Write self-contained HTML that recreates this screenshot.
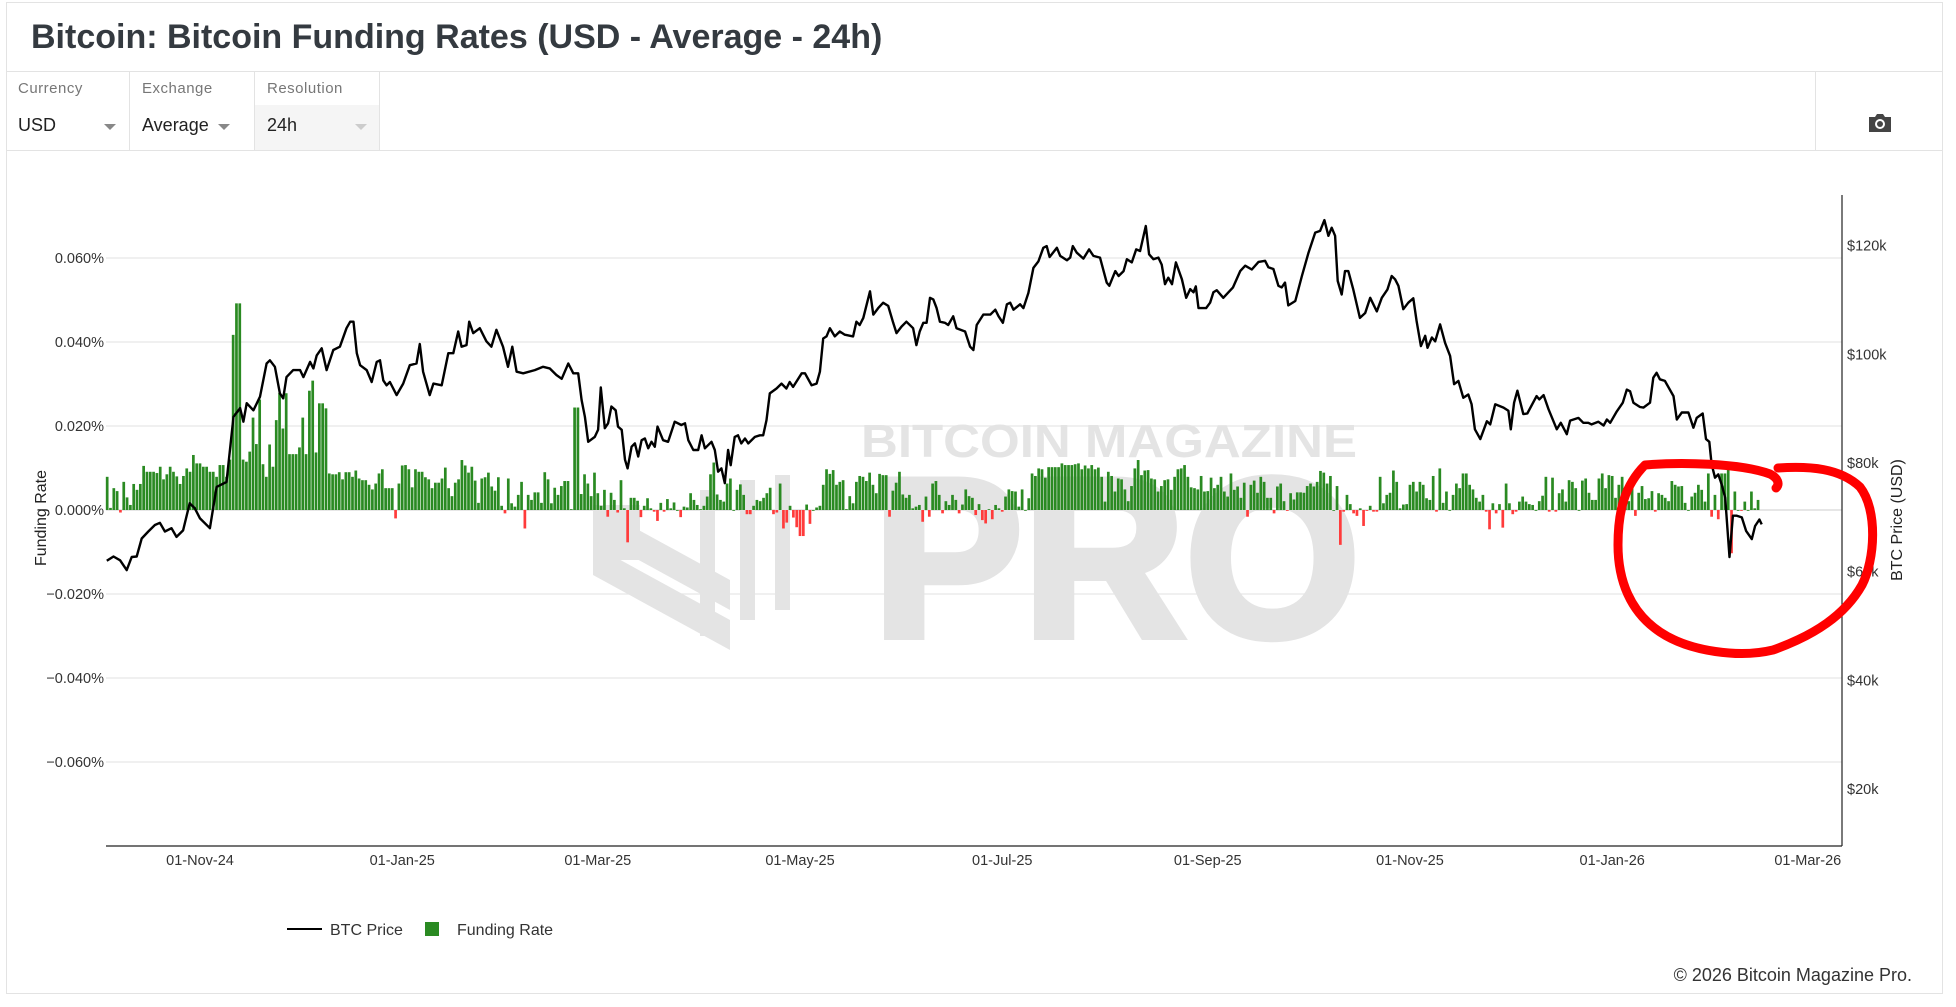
<!DOCTYPE html>
<html><head><meta charset="utf-8">
<style>
html,body{margin:0;padding:0;background:#fff;}
body{width:1956px;height:1007px;position:relative;overflow:hidden;font-family:"Liberation Sans",sans-serif;color:#333;}
.card{position:absolute;left:6px;top:2px;width:1937px;height:992px;border:1px solid #e3e3e3;box-sizing:border-box;}
.title{position:absolute;left:31px;top:18px;font-size:34px;font-weight:bold;color:#343a40;}
.hline{position:absolute;left:6px;width:1937px;height:1px;background:#e3e3e3;}
.ctrl{position:absolute;top:72px;height:78px;border-right:1px solid #e3e3e3;box-sizing:border-box;}
.ctrl .lbl{position:absolute;left:12px;top:8px;font-size:15px;color:#777;letter-spacing:0.5px;}
.ctrl .val{position:absolute;left:12px;top:43px;font-size:18px;color:#222;}
.ctrl .arr{position:absolute;top:52px;width:0;height:0;border-left:6px solid transparent;border-right:6px solid transparent;border-top:6px solid #888;}
</style></head>
<body>
<div class="card"></div>
<div class="title">Bitcoin: Bitcoin Funding Rates (USD - Average - 24h)</div>
<div class="hline" style="top:71px"></div>
<div class="ctrl" style="left:6px;width:124px"><div class="lbl">Currency</div><div class="val">USD</div><div class="arr" style="left:98px"></div></div>
<div class="ctrl" style="left:130px;width:125px"><div class="lbl">Exchange</div><div class="val">Average</div><div class="arr" style="left:88px"></div></div>
<div class="ctrl" style="left:255px;width:125px"><div style="position:absolute;left:0;top:33px;width:124px;height:45px;background:#f5f5f5"></div><div class="lbl">Resolution</div><div class="val">24h</div><div class="arr" style="left:100px;border-top-color:#ccc"></div></div>
<div class="hline" style="top:150px"></div>
<div style="position:absolute;left:1815px;top:72px;width:1px;height:78px;background:#e3e3e3"></div>
<svg style="position:absolute;left:1867px;top:112px" width="26" height="22" viewBox="0 0 26 22">
<path d="M2 5h6l2-3h6l2 3h6v15H2z" fill="#444"/><circle cx="13" cy="12" r="5" fill="#fff"/><circle cx="13" cy="12" r="3" fill="#444"/></svg>

<svg id="chart" style="position:absolute;left:0;top:0" width="1956" height="1007"></svg>

<div style="position:absolute;right:44px;top:965px;font-size:18px;color:#333">© 2026 Bitcoin Magazine Pro.</div>

<script>
const xTickLabels = ["01-Nov-24","01-Jan-25","01-Mar-25","01-May-25","01-Jul-25","01-Sep-25","01-Nov-25","01-Jan-26","01-Mar-26"];
const xTickDays = [0,61,120,181,242,304,365,426,485];
const fundingTicks = [0.06,0.04,0.02,0,-0.02,-0.04,-0.06];
const priceTicks = [120,100,80,60,40,20];
const fundingStartDay = -28;
const fundingValues = [
7.9,0.5,5.2,4.5,-0.6,6.7,3,1.2,6.2,4.8,
6.2,10.5,9.1,9.1,9.1,8.8,10.3,7.3,8.5,10.3,
9.1,8,6.2,8.1,9.9,9.1,13.1,11.1,11.1,10.3,
10.3,9.1,9.1,7.9,10.7,10.7,7.9,12,41.7,49.2,
49.2,12,11.5,13.9,22,15.7,26.3,10.9,7.9,15.6,
10.3,21.4,27.9,19.4,27.8,13.3,13.3,13.3,14.9,22,
13.3,28.4,30.8,13.7,25.4,25.4,24.2,8.7,8.5,8.5,
9,7.3,9,9,7.9,9.4,7.5,7.1,7.1,6,
4.9,6.3,8.7,9.7,5.2,5.2,5.2,-2,6.3,10.6,
10.7,9.7,5.4,9.7,9.1,9.1,7.8,7.3,5.2,6.5,
6.5,7.5,10.1,5.2,3.3,6.5,7.3,11.9,10.6,8.9,
10.3,7,1.7,7.5,7.8,8.9,5.6,4.6,7.8,1,
-0.8,7.5,1.6,0.8,3.6,6.7,-4.4,3.6,2.4,4.2,
4.2,1.7,9,7.3,1.6,5.3,3.6,5.7,6.9,6.9,
0.2,24.4,24.4,3.8,8.5,6.3,3.3,8.9,4,1,
4.8,-1.6,4.1,2.4,-0.6,7.1,0.4,-7.7,2.9,2.9,
2.2,-1.7,1,2.8,0.4,-0.4,-2.6,1.7,-0.4,2.6,
0.4,1.8,0,-1.7,0.8,0.6,4,2.4,1.2,0.2,
1,3.2,8.5,11.3,3.7,2.4,2,6.3,7.5,0,
4.8,6.1,3.6,-1,-1,1,2.4,2.1,2.9,4,
5.3,-1,-0.6,6.3,-4.4,-3,1,-1.8,-4.1,-6.2,
-6.2,1.3,-3.3,0,0.6,1,6,9.7,8.6,9.5,
6,6.7,7.1,0.2,3.3,1.6,6.7,8.1,7.9,6.9,
8.9,6,4,8.6,8.3,8.3,-1.6,4.6,6.5,9.1,
3.7,2.9,3.6,0.4,0.8,1.2,-2.8,3.2,-1.6,6.3,
6.9,3.6,-0.8,2.1,1.2,3.6,2.4,-0.8,1.3,4.9,
3.3,2.9,-1.2,1.4,-2.4,-3.2,0.2,-2.2,1.2,0.4,
-0.4,3.2,4.9,4.5,4.4,0.8,4.9,0,2.8,8.7,
8.1,9.9,9.7,7.7,10.2,10.2,10.2,10.2,11.1,10.7,
10.7,10.7,10.9,11.1,9.7,10.6,9.9,10.7,9.7,10.1,
7.9,2,9.1,8.1,4.4,7.5,7.3,4.9,2.1,5.7,
9.9,11.9,8.3,9.4,9.5,7.5,7.3,4.4,5.7,7.1,
7.3,4.8,7.9,9.7,9.9,10.7,7.9,5.4,5.2,4.9,
8.1,4.4,4.5,7.7,5.2,6,7.9,4.4,3.2,8.7,
4.8,5.6,2.9,6.5,-1.6,6,7,4.1,7.9,6.7,
2.9,2.9,-0.8,5.6,6.3,2.1,-0.2,4,2.5,4.2,
4.2,4.1,5.7,6.3,5.6,6.7,9.3,8.9,6.3,8.1,
0,5.7,-8.3,-0.4,3.6,1.4,-0.8,-1.4,0.4,-3.8,
-0.2,1,-0.4,-0.4,7.9,1.6,3.6,4.1,9.4,6.7,
0.4,1.3,1.4,6,6.7,4.4,6.7,6,2.8,2.4,
8.1,-0.4,9.9,1.7,4.4,0,3.6,6.3,5.2,8.7,
8.7,6,4.9,2.9,2,3.6,-0.4,-4.6,1.6,-0.8,
1.4,-4.2,6.3,1.6,-1,-0.4,2,3.2,2,1.4,
1.2,0,2.1,3.4,7.9,-0.4,7.7,-0.4,4,4.9,
2,7.1,6.7,5.2,0,7,7.5,4.1,2.4,2.4,
7.5,8.7,5.2,8.3,8.1,2.9,6,7.9,4,2.1,
5.6,-1.4,4.1,5.7,2.6,2.8,4.5,-0.4,4,3.6,
2.9,2.1,6.9,6,5.6,5.7,1.7,0,3.2,4.1,
6,4.8,2,8.7,-1.6,3.6,-2.2,8.7,8.7,11.3,
-10.3,4.4,0,-0.2,2,0,4.4,0.4,2.4];
const priceDays = [-28.1,-26.1,-24.1,-22.1,-20.6,-19.1,-17.6,-15.6,-13.6,-12.1,-10.6,-8.6,-7.1,-5.1,-3.1,-1.6,0,3,5,8,10.1,12.1,13.1,14.1,16.1,18.1,20.1,21.1,22.6,24.1,25.1,26.1,28.1,30.2,31.2,33.2,34.2,35.2,36.7,38.2,40.2,42.2,44.2,45.3,46.3,47.3,48.3,50.3,51.8,53.3,54.3,55.3,56.3,57.3,59.3,61.3,63.3,65.3,66.3,67.3,69.3,70.4,72.9,74.9,76.4,77.9,78.9,80.4,81.2,82.4,84.4,86.4,87.9,89.4,91.4,92.9,94.2,95.5,97.5,
101,103.5,105.5,107.5,109.1,111.1,112.6,114.1,115.1,116.1,117.1,119.1,120.1,120.9,122.1,123.1,124.1,125.4,126.1,127.2,128.2,129,130.2,131.2,132.2,133.2,134.2,135.2,136.2,137.2,138,139.7,141.2,143.2,145.2,146.3,147.3,148.8,150.3,151.3,152.3,154.3,155.3,156.3,157.3,158.3,159.3,160.1,161.3,162.3,163.3,164.4,165.4,167.4,168.9,169.9,170.9,171.9,173.9,175.4,176.9,177.9,178.9,181.5,182.5,184.5,186,187,188,189,190,191.5,193,194.5,197,198,199,200.1,202.1,203.1,204.6,206.1,207.6,209.1,210.1,211.6,213.1,215.1,216.1,217.1,218.2,219.2,220.2,221.2,222.2,223.2,224.7,225.7,227.2,228.2,
230.8,232.3,233.3,234.3,236.3,238.4,239.9,240.9,242.2,243.4,244.4,245.4,247.4,248.4,249.9,251.4,252.9,254.4,255.4,256.3,258.5,259.5,261.5,262.5,263.3,264.5,266.5,268.2,269.5,271.5,273.5,274.3,276.1,277.1,278.6,279.6,281.1,282.4,283.6,285.3,286.3,287.6,289.1,290.1,291.1,292.1,293.2,294.4,296.2,297.5,298.7,299.7,300.4,301.2,303.5,304.7,305.7,306.7,308.7,311.6,313.8,315.3,317.3,319.3,321.3,322.3,323.8,325.3,326.3,327.3,328.3,330.4,332.4,334.4,336.4,337.9,339.2,340.4,341.4,342.4,343.2,344.4,345.4,346.4,347.9,349.9,351.5,353,355,356.5,358.2,
359.5,360.5,361.5,363,364.5,366,367,368.3,369.6,370.3,371.6,372.6,374.1,375.6,377.1,378.3,379.6,381.1,382.6,383.6,384.6,386.2,388.2,389.2,390.7,393.2,394.7,395.4,396.4,397.4,399.2,400.4,403.2,404,405.3,406.8,409.3,410.5,412.3,413.3,415.8,417.3,418.8,419.8,421.8,423.4,424.4,425.4,427.4,429.2,430.4,431.4,432.4,434.4,435.4,437.4,438.4,439.4,440.4,441.9,444.5,445.5,447,449,450.5,451.5,453.3,454.3,455.3,456,457,458,459,460.1,461.4,462.4,463.6,465.1,466.4,468.1,469.1,470.4,471.1];
const priceK = [62,62.8,62.1,60.3,62.7,62.8,66.1,67.4,68.6,69,67.4,68,66.4,67.6,72.6,71.7,69.8,68,75.6,76.5,88.5,90.1,87.6,91,89.7,92.2,98.3,98.9,97.7,92.8,91.9,95.8,97.1,97.1,95.8,98.6,97.4,99.8,101.1,97.1,100.8,101.4,104.8,106,106,100.2,98,97.1,94.9,98.6,98.9,95.2,94.3,94.9,92.5,94.6,98,98.3,101.9,96.8,92.5,94.6,94.3,100.2,100.2,104.2,101.4,101.7,106,103.9,104.8,102.4,101.4,104.5,101.4,97.7,101.4,96.8,96.5,
97.1,97.7,97.4,96.2,95.5,98.3,96.5,96.5,91.6,88.5,83.9,84.8,86.1,93.9,86.4,87.3,90.4,89.7,86.7,86.1,80.6,79,83,83.6,81.2,84.2,84.5,82.7,83.9,83,86.7,84.2,83.9,87.6,87,87.3,84.2,82.4,82.4,85.1,82.7,83.9,82.4,78.4,79,76.3,82.4,79.6,84.8,85.1,83.6,84.5,83.6,84.8,85.1,85.1,87.9,92.8,93.7,94.6,93.7,94.9,94,96.5,96.5,94.3,94.6,96.8,102.9,103.3,104.8,103.3,104.2,103.6,103.3,106,105.4,106.7,111.6,107.3,108.5,109.5,108.9,105.8,103.9,105.1,106,104.8,101.7,104.2,105.8,105.8,110.4,110.1,108.5,106,105.8,105.4,107,104.8,
104.2,101.4,100.8,105.4,107.3,107.3,108.2,107,105.8,109.2,109.5,108.2,109.2,108.5,111.3,115.9,117.1,119.6,119.9,117.9,119.6,118.1,117.3,117.8,119.9,118.7,117.6,119.3,118.1,117.8,113.2,112.6,115.3,114.4,115.3,117.5,116.9,119.3,119,123.6,118.4,117.5,117.8,116.5,112.9,114.1,112.9,116.9,113.8,110.4,112,111.4,112.5,108.5,108.5,109.5,111.4,111.8,110.4,112.3,115.3,116.3,115.6,117,117.2,116,115.7,112.6,112.3,113.2,109,109.8,114.4,118.7,122.4,122.7,124.7,121.8,123.3,121.8,113.5,111,115.3,115.3,111.9,106.7,107.6,110.4,107.9,110.4,111.9,
114.4,113.8,112.6,108.3,109.5,110.3,106.1,101.5,103.4,101.2,103.1,102.4,105.5,102.1,99.7,94.5,95.1,92,92.6,90.8,86.2,84.4,87.7,87.1,90.8,90.2,89.6,86.2,91.1,93.3,89,89.1,92.3,91.7,92.5,89.9,86.2,87.4,85.3,87.8,88.3,87.4,87.4,87.1,87.6,86.9,88,87.4,89.5,91.1,93.5,93.2,91.1,90.3,90.2,91.1,95.7,96.6,95.4,95.1,92.3,88,89.3,89.3,86.5,88.3,89.1,84.4,83.9,79.8,77.3,77.9,76.1,73.6,62.7,70.3,70.3,70,67.5,66,68.4,69.6,68.7];

const NS="http://www.w3.org/2000/svg";
const svg=document.getElementById('chart');
const X0=106,X1=1842,YB=846,YT=195;
function xScale(d){return 200+d*3.315;}
function yFund(v){return 510-v*4.2;}
function yPrice(k){return 463-(k-80)*5.435;}
function el(tag,attrs,parent){const e=document.createElementNS(NS,tag);for(const a in attrs)e.setAttribute(a,attrs[a]);(parent||svg).appendChild(e);return e;}

const grid=el('g',{});


fundingTicks.forEach(t=>{
  const y=yFund(t*1000);
  const l=el('line',{x1:X0,x2:X1,y1:y,y2:y,stroke:'#e6e6e6','stroke-width':t===0?2:1.3},grid);
  
  
  const tx=el('text',{x:104,y:y+5,'text-anchor':'end','font-size':14.5,fill:'#333','font-family':'Liberation Sans, sans-serif'});
  
  
  tx.textContent=(t<0?'\u2212':'')+Math.abs(t).toFixed(3)+'%';
});

const wm=el('g',{fill:'#e4e4e4'});


const w1=el('text',{x:861,y:457,'font-size':46,'font-weight':'bold','font-family':'Liberation Sans, sans-serif',textLength:496,lengthAdjust:'spacingAndGlyphs'},wm);
w1.textContent='BITCOIN MAGAZINE';
const w2=el('text',{x:873,y:636,'font-size':226,'font-weight':'bold','font-family':'Liberation Sans, sans-serif',textLength:487,lengthAdjust:'spacingAndGlyphs',stroke:'#e4e4e4','stroke-width':8},wm);
w2.textContent='PRO';
el('polygon',{points:'593,505 730,580 730,610 593,535'},wm);
el('polygon',{points:'593,545 730,620 730,650 593,575'},wm);
el('polygon',{points:'593,505 640,505 640,560 593,560'},wm);
el('polygon',{points:'700,490 715,490 715,636 700,636'},wm);
el('polygon',{points:'740,480 755,480 755,620 740,620'},wm);
el('polygon',{points:'775,475 790,475 790,610 775,610'},wm);

const bars=el('g',{});


fundingValues.forEach((v,i)=>{
  const x=xScale(fundingStartDay+i);
  const y0=yFund(0),y=yFund(v);
  const r=el('rect',{x:x-1.35,width:2.7,y:Math.min(y0,y),height:Math.max(0.8,Math.abs(y-y0)),fill:v>=0?'#2a8a22':'#ff3b3b'},bars);
  
  
});

let d='';
priceDays.forEach((dd,i)=>{d+=(i?'L':'M')+xScale(dd).toFixed(1)+','+yPrice(priceK[i]).toFixed(1);});
const pl=el('path',{d:d,fill:'none',stroke:'#000','stroke-width':2.4,'stroke-linejoin':'round'});



const ax=el('line',{x1:X0,x2:X1,y1:YB,y2:YB,stroke:'#222','stroke-width':1.2});


const ay=el('line',{x1:X1,x2:X1,y1:YT,y2:YB,stroke:'#222','stroke-width':1.2});


xTickLabels.forEach((lab,i)=>{
  const t=el('text',{x:xScale(xTickDays[i]),y:865,'text-anchor':'middle','font-size':14.5,fill:'#333','font-family':'Liberation Sans, sans-serif'});
  
  
  t.textContent=lab;
});
priceTicks.forEach(k=>{
  const t=el('text',{x:1847,y:yPrice(k)+5,'font-size':14.5,fill:'#333','font-family':'Liberation Sans, sans-serif'});
  
  
  t.textContent='$'+k+'k';
});
const lt=el('text',{transform:'translate(46,518) rotate(-90)','text-anchor':'middle','font-size':16,fill:'#222','font-family':'Liberation Sans, sans-serif'});


lt.textContent='Funding Rate';
const rt=el('text',{transform:'translate(1902,520) rotate(-90)','text-anchor':'middle','font-size':16,fill:'#222','font-family':'Liberation Sans, sans-serif'});


rt.textContent='BTC Price (USD)';

const lg=el('g',{});


const le1=el('g',{},lg);


el('line',{x1:287,x2:322,y1:929,y2:929,stroke:'#000','stroke-width':2},le1);
const l1=el('text',{x:330,y:935,'font-size':16,fill:'#333','font-family':'Liberation Sans, sans-serif'},le1);l1.textContent='BTC Price';
const le2=el('g',{},lg);


el('rect',{x:425,y:922,width:14,height:14,fill:'#2a8a22'},le2);
const l2=el('text',{x:457,y:935,'font-size':16,fill:'#333','font-family':'Liberation Sans, sans-serif'},le2);l2.textContent='Funding Rate';

const ann=el('path',{d:'M1778,468 C1810,466 1840,468 1860,487 C1878,510 1875,560 1862,585 C1845,615 1815,635 1773,650 C1740,658 1690,652 1660,632 C1630,612 1618,580 1618,545 C1618,510 1625,485 1645,465 C1680,462 1740,463 1770,474 C1778,478 1780,484 1776,488',fill:'none',stroke:'#ff0000','stroke-width':9,'stroke-linecap':'round','stroke-linejoin':'round'});


</script>
</body></html>
